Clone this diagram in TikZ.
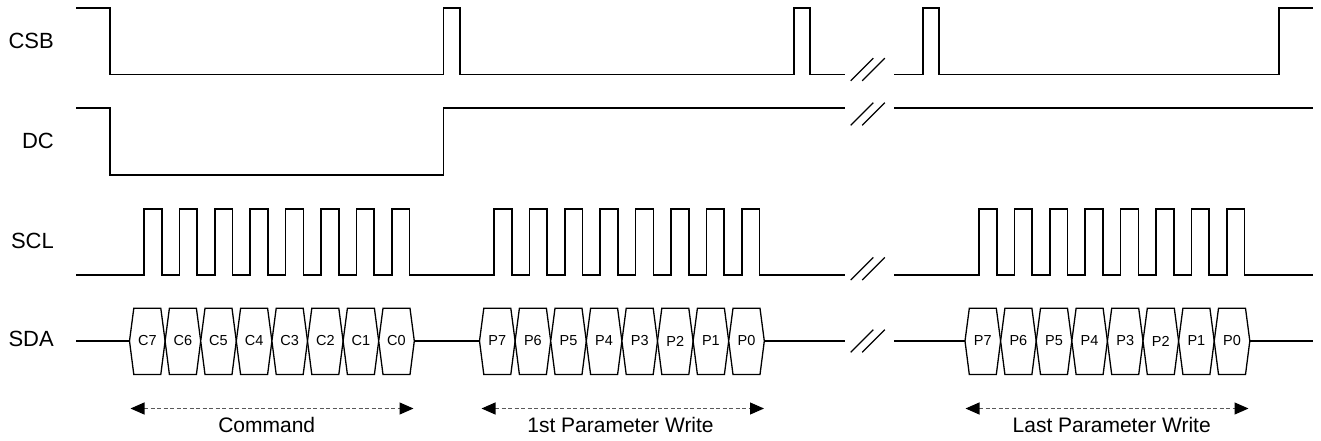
\documentclass[tikz,border=0pt]{standalone}
\usepackage{fontspec}
\setmainfont{Liberation Sans}
\usetikzlibrary{arrows.meta}
\begin{document}
\begin{tikzpicture}[x=1pt,y=-1pt,
  sig/.style={line width=1.6pt,line join=miter},
  slash/.style={line width=1.3pt},
  signame/.style={anchor=east,inner sep=0pt,font=\fontsize{22}{26}\selectfont},
  bitbox/.style={line width=1.3pt,fill=white},
  bitlabel/.style={inner sep=0pt,font=\fontsize{14.5}{17}\selectfont},
  span/.style={draw=black!65,line width=1.1pt,dash pattern=on 4pt off 2.5pt,
    {Triangle[length=14pt,width=12pt,color=black,fill=black,sep=0pt]}-{Triangle[length=14pt,width=12pt,color=black,fill=black,sep=0pt]}},
  spanlabel/.style={inner sep=0pt,font=\fontsize{21}{25}\selectfont}]
\useasboundingbox (0,0) rectangle (1321,441);

% signal names
\node[signame] (csb) at (54,41.3) {CSB};
\node[signame] (dc)  at (54,140.8) {DC};
\node[signame] (scl) at (54,240.8) {SCL};
\node[signame] (sda) at (54,338.5) {SDA};

% CSB
\draw[sig] (76,8.3) -- (110,8.3) -- (110,74.5) -- (443.3,74.5) -- (443.3,8.3) -- (460,8.3)
  -- (460,74.5) -- (794,74.5) -- (794,8.3) -- (810,8.3) -- (810,74.5) -- (845,74.5);
\draw[sig] (894,74.5) -- (923,74.5) -- (923,8.3) -- (939,8.3) -- (939,74.5) -- (1279,74.5)
  -- (1279,8.3) -- (1313,8.3);

% DC
\draw[sig] (76,108.3) -- (110,108.3) -- (110,175) -- (443.3,175) -- (443.3,108.3) -- (845,108.3);
\draw[sig] (894,108.3) -- (1313,108.3);

% SCL
\draw[sig] (76,275)
  foreach \i in {0,...,7} { -- ({144+35.4*\i},275) -- ({144+35.4*\i},209) -- ({161.7+35.4*\i},209) -- ({161.7+35.4*\i},275) }
  foreach \i in {0,...,7} { -- ({494+35.4*\i},275) -- ({494+35.4*\i},209) -- ({511.7+35.4*\i},209) -- ({511.7+35.4*\i},275) }
  -- (845,275);
\draw[sig] (894,275)
  foreach \i in {0,...,7} { -- ({979+35.4*\i},275) -- ({979+35.4*\i},209) -- ({996.7+35.4*\i},209) -- ({996.7+35.4*\i},275) }
  -- (1313,275);

% SDA idle lines
\draw[sig] (76,341) -- (129.5,341);
\draw[sig] (414.3,341) -- (479.5,341);
\draw[sig] (764.3,341) -- (845,341);
\draw[sig] (894,341) -- (965,341);
\draw[sig] (1249.8,341) -- (1313,341);

% SDA bit boxes
\foreach \s/\p/\blk in {129.5/C/a,479.5/P/b,965/P/c}{
  \foreach \k [count=\j from 0] in {7,6,5,4,3,2,1,0}{
    \pgfmathsetmacro{\xa}{\s+35.6*\j}
    \pgfmathsetmacro{\xb}{\xa+35.6}
    \draw[bitbox] (\xa,341) -- (\xa+4.3,308.3) -- (\xb-4.3,308.3) -- (\xb,341)
      -- (\xb-4.3,374.5) -- (\xa+4.3,374.5) -- cycle;
    \node[bitlabel] (bit\blk\k) at ({(\xa+\xb)/2},341) {\p\k};
  }
}

% break marks
\foreach \cy in {69.5,114,268.7,341}{
  \draw[slash] (850.7,\cy+11.3) -- (873.3,\cy-11.3);
  \draw[slash] (862.2,\cy+11.3) -- (884.8,\cy-11.3);
}

% spans
\coordinate (cmdL) at (130.5,408.5);
\coordinate (cmdR) at (413.5,408.5);
\coordinate (p1L) at (481.5,408.5);
\coordinate (p1R) at (764,408.5);
\coordinate (plL) at (965.5,408.5);
\coordinate (plR) at (1248.5,408.5);
\draw[span] (cmdL) -- (cmdR);
\draw[span] (p1L) -- (p1R);
\draw[span] (plL) -- (plR);
\node[spanlabel] (cmdlab) at (266.7,425.3) {Command};
\node[spanlabel] (p1lab) at (620.5,425.3) {1st Parameter Write};
\node[spanlabel] (pllab) at (1111.7,425.3) {Last Parameter Write};
\end{tikzpicture}
\end{document}
